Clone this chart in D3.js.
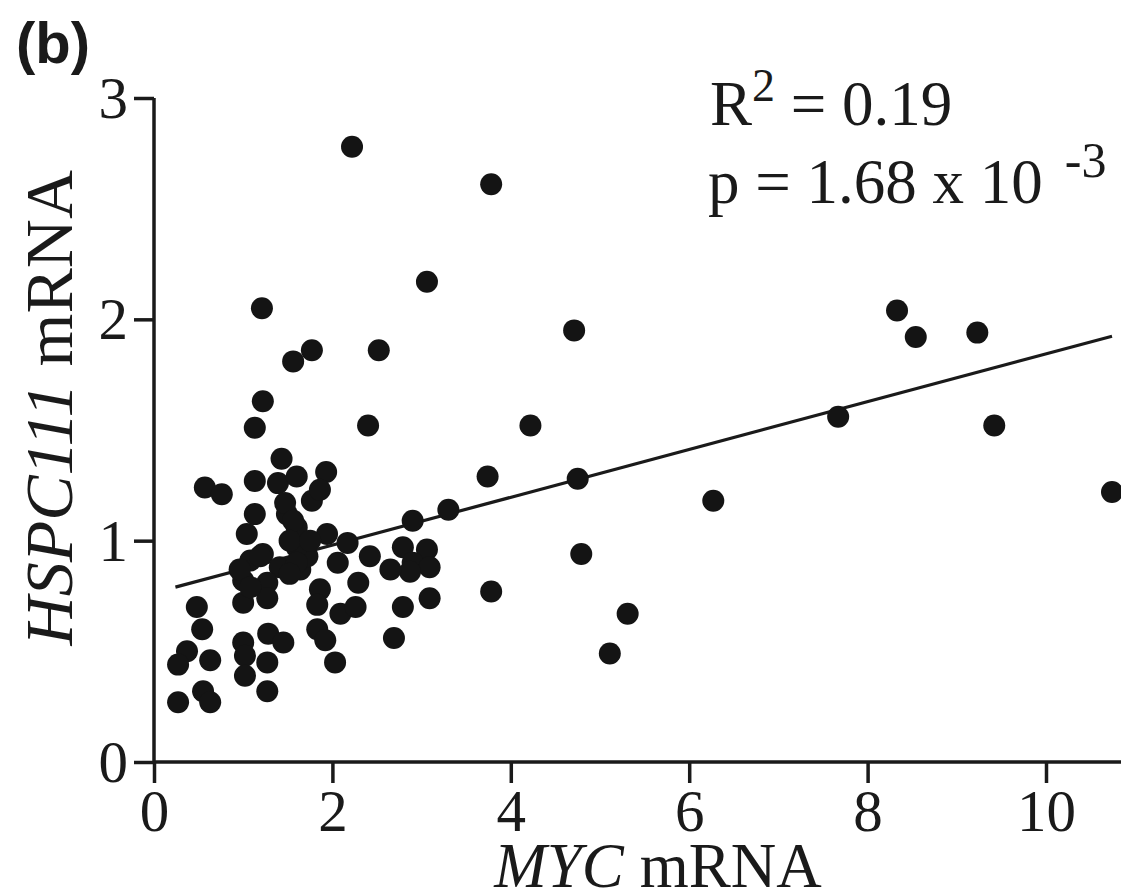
<!DOCTYPE html>
<html>
<head>
<meta charset="utf-8">
<script src="https://cdn.jsdelivr.net/npm/d3@7"></script>
<style>
  body { margin: 0; background: #fff; }
  svg { display: block; }
</style>
</head>
<body>
<div class="chart"></div>
<script>
// MYC vs HSPC111 expression
const mycValues = [
  2.22, 3.78, 3.06, 1.21, 4.71, 1.77, 1.56, 2.52, 8.33, 8.54,
  9.23, 9.42, 7.67, 4.22, 2.40, 1.22, 1.13, 10.74, 6.27, 4.75,
  3.74, 4.79, 3.78, 5.31, 5.11, 3.30, 2.90, 3.09, 2.79, 2.69,
  2.79, 3.06, 2.90, 3.09, 2.87, 2.65, 2.42, 2.17, 1.94, 2.06,
  2.29, 1.86, 1.83, 2.09, 2.26, 1.83, 1.92, 2.03, 1.64, 1.72,
  1.60, 1.49, 1.60, 1.43, 0.57, 0.76, 1.13, 1.39, 1.60, 1.93,
  1.47, 1.77, 1.86, 1.13, 1.04, 1.56, 1.52, 1.75, 1.08, 1.22,
  1.41, 1.60, 1.00, 1.27, 1.52, 0.96, 1.19, 0.48, 1.00, 1.27,
  0.54, 0.37, 0.27, 0.63, 1.00, 1.02, 1.28, 1.45, 1.27, 1.02,
  1.27, 0.27, 0.55, 0.63, 1.08
];
const hspcValues = [
  2.78, 2.61, 2.17, 2.05, 1.95, 1.86, 1.81, 1.86, 2.04, 1.92,
  1.94, 1.52, 1.56, 1.52, 1.52, 1.63, 1.51, 1.22, 1.18, 1.28,
  1.29, 0.94, 0.77, 0.67, 0.49, 1.14, 1.09, 0.74, 0.70, 0.56,
  0.97, 0.96, 0.90, 0.88, 0.86, 0.87, 0.93, 0.99, 1.03, 0.90,
  0.81, 0.78, 0.71, 0.67, 0.70, 0.60, 0.55, 0.45, 0.87, 0.93,
  0.97, 1.12, 1.06, 1.37, 1.24, 1.21, 1.27, 1.26, 1.29, 1.31,
  1.17, 1.18, 1.23, 1.12, 1.03, 1.09, 1.00, 1.00, 0.91, 0.94,
  0.88, 0.90, 0.82, 0.81, 0.85, 0.87, 0.93, 0.70, 0.72, 0.74,
  0.60, 0.50, 0.44, 0.46, 0.54, 0.48, 0.58, 0.54, 0.45, 0.39,
  0.32, 0.27, 0.32, 0.27, 0.79
];

// fitted line: y = intercept + slope * x over the drawn range
const fitIntercept = 0.764;
const fitSlope = 0.108;
const fitRange = [0.24, 10.74];

const xTicks = [0, 2, 4, 6, 8, 10];
const yTicks = [0, 1, 2, 3];

const width = 1121, height = 893;
const serif = "'Liberation Serif', 'Times New Roman', serif";
const ink = "#1a1a1a";

const svg = d3.select(".chart").append("svg")
    .attr("width", width)
    .attr("height", height);

//scales: x=0 sits at 154px, 10 at 1046px; y=0 at 762px, 3 at 98px
const x = d3.scaleLinear().domain([0, 10]).range([154, 1046]);
const y = d3.scaleLinear().domain([0, 3]).range([762, 98]);

//x axis runs to the right edge
const xAxis = svg.append("g")
    .attr("transform", `translate(0, ${y(0)})`)
    .call(d3.axisBottom(x).tickValues(xTicks).tickSize(21).tickPadding(7).tickFormat(d3.format("d")));
xAxis.select(".domain").attr("d", `M${x(0)},0H${width}`);

const yAxis = svg.append("g")
    .attr("transform", `translate(${x(0)}, 0)`)
    .call(d3.axisLeft(y).tickValues(yTicks).tickSize(20).tickPadding(6).tickFormat(d3.format("d")));
yAxis.select(".domain").attr("d", `M0,${y(3)}V${y(0)}`);

svg.selectAll(".domain, .tick line")
    .attr("stroke", ink)
    .attr("stroke-width", 3.5);

svg.selectAll(".tick text")
    .attr("font-family", serif)
    .attr("font-size", 59)
    .attr("fill", ink);
xAxis.selectAll(".tick text").attr("dy", "0.70em");
yAxis.selectAll(".tick text").attr("dy", "0.33em");

//regression line
svg.append("line")
    .attr("x1", x(fitRange[0]))
    .attr("y1", y(fitIntercept + fitSlope * fitRange[0]))
    .attr("x2", x(fitRange[1]))
    .attr("y2", y(fitIntercept + fitSlope * fitRange[1]))
    .attr("stroke", ink)
    .attr("stroke-width", 3.2);

//points
const points = mycValues.map((v, i) => ({ myc: v, hspc: hspcValues[i] }));
svg.append("g").selectAll("circle")
    .data(points).enter()
    .append("circle")
    .attr("cx", (d) => x(d.myc))
    .attr("cy", (d) => y(d.hspc))
    .attr("r", 11)
    .attr("fill", "#141414");

//axis titles
const xTitle = svg.append("text")
    .attr("x", 658)
    .attr("y", 887)
    .attr("text-anchor", "middle")
    .attr("font-family", serif)
    .attr("font-size", 63)
    .attr("fill", ink);
xTitle.append("tspan").attr("font-style", "italic").text("MYC");
xTitle.append("tspan").text(" mRNA");

//y title ends near the top, just under the panel label
const yTitle = svg.append("text")
    .attr("transform", "translate(72, 170) rotate(-90)")
    .attr("text-anchor", "end")
    .attr("font-family", serif)
    .attr("font-size", 68)
    .attr("fill", ink);
yTitle.append("tspan").attr("font-style", "italic").text("HSPC111");
yTitle.append("tspan").text(" mRNA");

//stats annotation
const r2 = svg.append("text")
    .attr("x", 710)
    .attr("y", 125)
    .attr("font-family", serif)
    .attr("font-size", 63)
    .attr("fill", ink);
r2.append("tspan").text("R");
r2.append("tspan").attr("font-size", 46).attr("dy", -24).text("2");
r2.append("tspan").attr("dy", 24).text(" = 0.19");

const pText = svg.append("text")
    .attr("x", 708)
    .attr("y", 203)
    .attr("font-family", serif)
    .attr("font-size", 63)
    .attr("fill", ink);
pText.append("tspan").text("p = 1.68 x 10");
pText.append("tspan").attr("font-size", 50).attr("dx", 22).attr("dy", -26).text("-3");

//panel label
svg.append("text")
    .attr("x", 16)
    .attr("y", 63)
    .attr("font-family", "'Liberation Sans', Arial, sans-serif")
    .attr("font-weight", "bold")
    .attr("font-size", 58)
    .attr("fill", ink)
    .text("(b)");
</script>
</body>
</html>
